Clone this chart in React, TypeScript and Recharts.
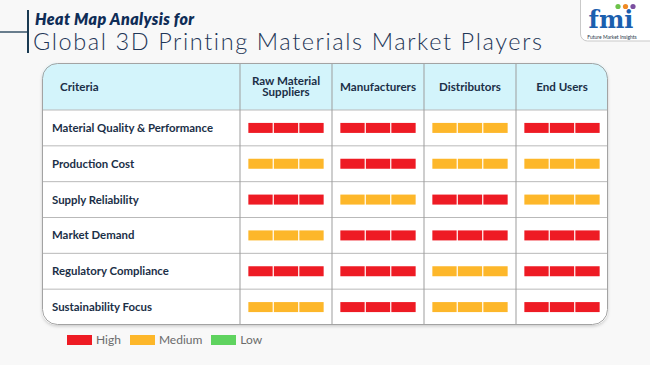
import { ScatterChart, Scatter, XAxis, YAxis, Legend } from "recharts";

const criteria = [
  "Material Quality & Performance",
  "Production Cost",
  "Supply Reliability",
  "Market Demand",
  "Regulatory Compliance",
  "Sustainability Focus",
];
const players = ["Raw Material Suppliers", "Manufacturers", "Distributors", "End Users"];
const levels = ["High", "Medium", "Low"];

// one entry per criterion, top to bottom
const rawMaterialSuppliers = ["High", "Medium", "High", "Medium", "High", "Medium"];
const manufacturers = ["High", "High", "Medium", "High", "High", "High"];
const distributors = ["Medium", "Medium", "High", "High", "Medium", "Medium"];
const endUsers = ["High", "Medium", "Medium", "High", "High", "High"];

const LEVEL_COLORS: Record<string, string> = {
  High: "#ee1b24",
  Medium: "#fdb72a",
  Low: "#5fd35f",
};

const columns = [rawMaterialSuppliers, manufacturers, distributors, endUsers];
const cells = criteria.flatMap((criterion, r) =>
  players.map((player, c) => ({ criterion, player, level: columns[c][r] }))
);

// layout
const W = 650;
const H = 365;
const T_LEFT = 42;
const T_RIGHT = 608;
const T_TOP = 63;
const HEAD_BOTTOM = 110;
const T_BOTTOM = 325;
const LABEL_W = 198;
const PLOT_LEFT = T_LEFT + LABEL_W;
const HEAD_MID = (T_TOP + HEAD_BOTTOM) / 2;
const NAVY = "#1b2f47";
const FONT = "Lato, 'Open Sans', sans-serif";

function wrap(label: string, max = 13) {
  const lines: string[] = [];
  let cur = "";
  for (const w of label.split(" ")) {
    if (cur && (cur + " " + w).length > max) {
      lines.push(cur);
      cur = w;
    } else cur = cur ? cur + " " + w : w;
  }
  if (cur) lines.push(cur);
  return lines;
}

function HeaderTick(props: any) {
  const { x, payload } = props;
  const lines = wrap(String(payload.value));
  const lh = 11.5;
  const first = HEAD_MID + 4 - ((lines.length - 1) * lh) / 2;
  return (
    <text textAnchor="middle" fontSize={11.6} fontWeight={700} fill={NAVY} fontFamily={FONT}>
      {lines.map((l, i) => (
        <tspan key={i} x={x} y={first + i * lh}>
          {l}
        </tspan>
      ))}
    </text>
  );
}

function RowTick(props: any) {
  const { y, payload } = props;
  return (
    <text x={T_LEFT + 10} y={y} dy={4} fontSize={11.4} fontWeight={700} fill={NAVY} fontFamily={FONT}>
      {payload.value}
    </text>
  );
}

function CellShape(props: any) {
  const { cx, cy, payload } = props;
  const segW = 24.3;
  const gap = 1.2;
  const h = 10;
  const total = segW * 3 + gap * 2;
  const x0 = cx - total / 2;
  const fill = LEVEL_COLORS[payload.level];
  return (
    <g>
      {[0, 1, 2].map((i) => (
        <rect key={i} x={x0 + i * (segW + gap)} y={cy - h / 2} width={segW} height={h} fill={fill} />
      ))}
    </g>
  );
}

function LegendContent() {
  return (
    <div style={{ display: "flex", alignItems: "center", fontFamily: FONT, fontSize: 12, color: "#6b6b6b" }}>
      {levels.map((lv) => (
        <div key={lv} style={{ display: "flex", alignItems: "center", marginRight: 9 }}>
          <span style={{ display: "inline-block", width: 25, height: 10, background: LEVEL_COLORS[lv], marginRight: 4 }} />
          <span>{lv}</span>
        </div>
      ))}
    </div>
  );
}

function TableBackground() {
  const rowH = (T_BOTTOM - HEAD_BOTTOM) / criteria.length;
  const colW = (T_RIGHT - PLOT_LEFT) / players.length;
  const hLines = criteria.map((_, i) => HEAD_BOTTOM + i * rowH);
  const vLines = players.map((_, i) => PLOT_LEFT + i * colW);
  return (
    <svg width={W} height={H} style={{ position: "absolute", left: 0, top: 0 }}>
      <defs>
        <clipPath id="tbl">
          <rect x={T_LEFT} y={T_TOP} width={T_RIGHT - T_LEFT} height={T_BOTTOM - T_TOP} rx={15} />
        </clipPath>
        <filter id="sh" x="-5%" y="-5%" width="110%" height="115%">
          <feDropShadow dx={0} dy={1.5} stdDeviation={1.5} floodColor="#000" floodOpacity={0.18} />
        </filter>
      </defs>
      {/* title */}
      <line x1={0} y1={32} x2={28} y2={32} stroke="#1a3a52" strokeWidth={1.3} />
      <line x1={28} y1={10} x2={28} y2={53} stroke="#1a3a52" strokeWidth={2} />
      <text x={35} y={25} fontFamily={FONT} fontSize={16} fontWeight={800} fontStyle="italic" letterSpacing={0.4} fill="#0f2d57">
        Heat Map Analysis for
      </text>
      <text x={33} y={50} fontFamily={FONT} fontSize={23.5} fontWeight={300} letterSpacing={1.6} fill="#1f3657">
        Global 3D Printing Materials Market Players
      </text>
      {/* logo */}
      <rect x={580.5} y={-8} width={80} height={49} rx={7} fill="#fff" stroke="#c9c9c9" />
      <circle cx={618} cy={6.5} r={2.6} fill="#6cc24a" />
      <circle cx={625.5} cy={6.5} r={2.6} fill="#f08a24" />
      <circle cx={633} cy={6.5} r={2.6} fill="#7b4fa0" />
      <text x={611} y={27.5} textAnchor="middle" fontFamily="'DejaVu Serif', serif" fontWeight={700} fontSize={24} fill="#1b5fae">
        fmi
      </text>
      <text x={612} y={39} textAnchor="middle" fontFamily={FONT} fontSize={5} fill="#2a3a4a">
        Future Market Insights
      </text>
      {/* table */}
      <rect x={T_LEFT} y={T_TOP} width={T_RIGHT - T_LEFT} height={T_BOTTOM - T_TOP} rx={15} fill="#fff" filter="url(#sh)" />
      <g clipPath="url(#tbl)">
        <rect x={T_LEFT} y={T_TOP} width={T_RIGHT - T_LEFT} height={HEAD_BOTTOM - T_TOP} fill="#d3f4fb" />
        {hLines.map((y) => (
          <line key={y} x1={T_LEFT} x2={T_RIGHT} y1={y} y2={y} stroke="#b9b9b9" strokeWidth={1} />
        ))}
        {vLines.map((x) => (
          <line key={x} x1={x} x2={x} y1={T_TOP} y2={T_BOTTOM} stroke="#9d9d9d" strokeWidth={1} />
        ))}
      </g>
      <rect x={T_LEFT + 0.5} y={T_TOP + 0.5} width={T_RIGHT - T_LEFT - 1} height={T_BOTTOM - T_TOP - 1} rx={15} fill="none" stroke="#a3a3a3" />
      <text x={T_LEFT + 18} y={HEAD_MID + 4} fontSize={11.6} fontWeight={700} fill={NAVY} fontFamily={FONT}>
        Criteria
      </text>
    </svg>
  );
}

export default function App() {
  return (
    <div style={{ position: "absolute", left: 0, top: 0, width: W, height: H, background: "#f8f8f8", overflow: "hidden" }}>
      <TableBackground />
      <div style={{ position: "absolute", left: 0, top: 0 }}>
        <ScatterChart
          width={W}
          height={H}
          margin={{ top: T_TOP, right: W - T_RIGHT, bottom: H - T_BOTTOM, left: T_LEFT }}
        >
          <XAxis
            dataKey="player"
            type="category"
            orientation="top"
            allowDuplicatedCategory={false}
            height={HEAD_BOTTOM - T_TOP}
            axisLine={false}
            tickLine={false}
            tickSize={0}
            interval={0}
            tick={<HeaderTick />}
          />
          <YAxis
            dataKey="criterion"
            type="category"
            allowDuplicatedCategory={false}
            reversed
            width={LABEL_W}
            axisLine={false}
            tickLine={false}
            tickSize={0}
            interval={0}
            tick={<RowTick />}
          />
          <Legend
            layout="vertical"
            align="center"
            verticalAlign="middle"
            wrapperStyle={{ left: 67, top: 332, width: "auto", height: "auto" }}
            content={<LegendContent />}
          />
          <Scatter data={cells} shape={<CellShape />} isAnimationActive={false} />
        </ScatterChart>
      </div>
    </div>
  );
}
